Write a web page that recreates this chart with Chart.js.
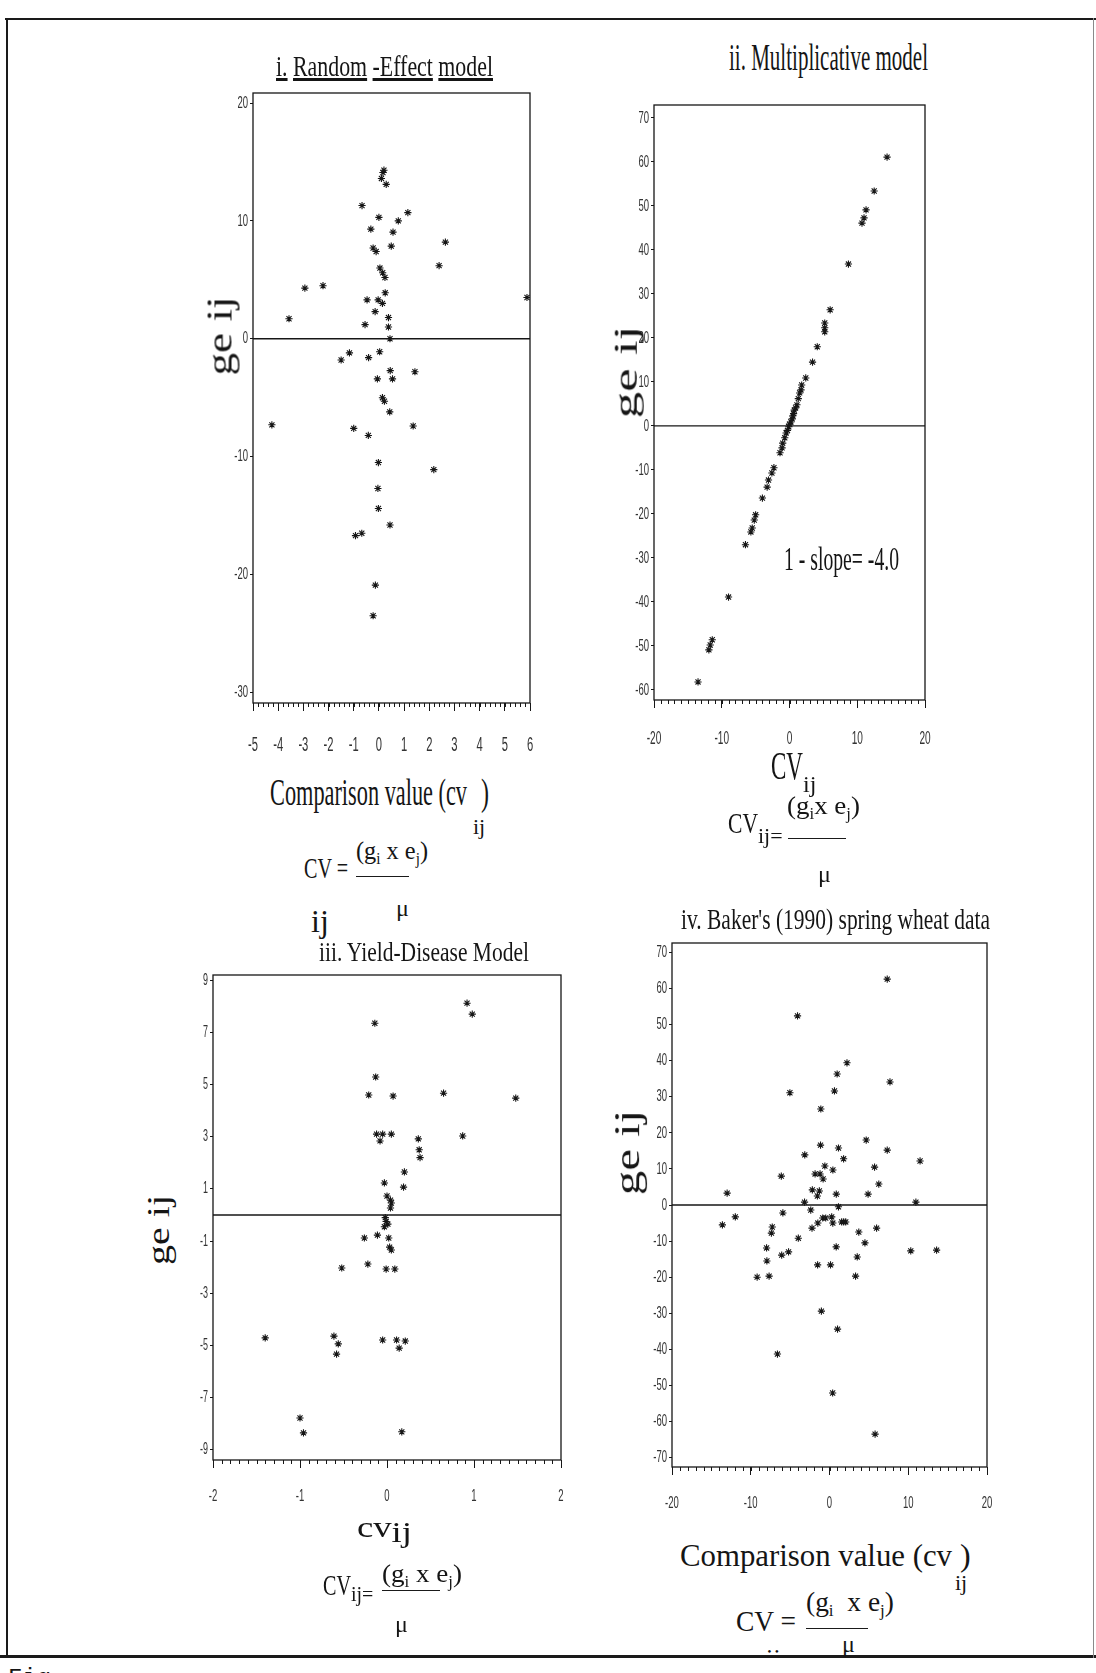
<!DOCTYPE html>
<html>
<head>
<meta charset="utf-8">
<title>ge(ij) against comparison value</title>
<script src="https://cdn.jsdelivr.net/npm/chart.js@4.4.1/dist/chart.umd.min.js"></script>
<style>
  html, body { margin: 0; padding: 0; background: #fff; }
  #page { position: relative; width: 1096px; height: 1673px; overflow: hidden; background: #fff; }
  canvas { position: absolute; }
  .lbl { position: absolute; line-height: 1; white-space: nowrap; transform-origin: 0 0;
         font-family: 'Liberation Serif', 'DejaVu Serif', serif; color: #151515; }
  .lbl sub { font-size: 0.62em; vertical-align: -0.3em; }
  .rule { position: absolute; background: #1a1a1a; }
</style>
</head>
<body>
<div id="page">
  <canvas id="chartRandom" width="325" height="682" style="left:217px; top:81px"></canvas>
  <canvas id="chartMult" width="319" height="667" style="left:618px; top:93px"></canvas>
  <canvas id="chartYield" width="396" height="557" style="left:177px; top:963px"></canvas>
  <canvas id="chartBaker" width="363" height="596" style="left:636px; top:931px"></canvas>
</div>
<script>
// i. Random-Effect model
const cvRandom = [0.16, 0.1, 0.2, 0.29, -0.67, 0.0, 1.15, 0.77, -0.32, 0.56, 2.64, 0.49, -0.23, -0.11, 2.39, 0.04, 0.15, 0.24, -2.94, -2.22, 0.25, -0.47, -0.03, 0.14, 5.88, -0.15, -3.57, 0.38, 0.38, -0.55, 0.44, -1.5, -1.17, -0.41, 0.03, 0.45, 0.54, -0.06, 1.43, 0.14, 0.22, 0.43, -4.25, -1.0, -0.42, 1.36, -0.02, 2.18, -0.04, -0.02, 0.44, -0.93, -0.68, -0.14, -0.23];
const geRandom = [14.1, 13.6, 14.3, 13.1, 11.3, 10.3, 10.7, 10.0, 9.3, 9.05, 8.2, 7.86, 7.7, 7.4, 6.2, 6.0, 5.6, 5.2, 4.3, 4.5, 3.9, 3.3, 3.3, 3.0, 3.5, 2.3, 1.7, 1.8, 1.0, 1.2, 0.0, -1.8, -1.2, -1.6, -1.1, -2.7, -3.4, -3.4, -2.8, -5.0, -5.3, -6.2, -7.3, -7.6, -8.2, -7.4, -10.5, -11.1, -12.7, -14.4, -15.8, -16.7, -16.5, -20.9, -23.5];
const xTicksRandom = [-5, -4, -3, -2, -1, 0, 1, 2, 3, 4, 5, 6];
const yTicksRandom = [-30, -20, -10, 0, 10, 20];

// ii. Multiplicative model
const cvMult = [14.4, 12.5, 11.3, 11.0, 10.7, 8.7, 6.0, 5.2, 5.2, 5.2, 4.1, 3.4, 2.4, 1.8, 1.7, 1.5, 1.3, 1.1, 0.9, 0.7, 0.6, 0.5, 0.4, 0.2, 0.0, -0.1, -0.3, -0.5, -0.7, -1.0, -1.1, -1.4, -2.3, -2.6, -3.1, -3.3, -4.0, -5.0, -5.2, -5.5, -5.7, -6.5, -9.0, -11.4, -11.7, -11.9, -13.5];
const geMult = [61.1, 53.4, 49.1, 47.3, 46.1, 36.8, 26.4, 23.4, 22.3, 21.4, 18.0, 14.5, 10.9, 9.3, 8.2, 7.5, 6.2, 4.8, 4.1, 3.6, 2.8, 2.3, 1.6, 0.9, 0.4, -0.2, -1.0, -1.6, -2.7, -3.9, -5.0, -6.1, -9.5, -10.7, -12.3, -13.9, -16.4, -20.2, -21.4, -23.2, -24.1, -27.0, -38.9, -48.6, -49.8, -50.9, -58.2];
const xTicksMult = [-20, -10, 0, 10, 20];
const yTicksMult = [-60, -50, -40, -30, -20, -10, 0, 10, 20, 30, 40, 50, 60, 70];

// iii. Yield-Disease model
const cvYield = [0.92, 0.98, -0.14, -0.13, -0.21, 0.07, 0.65, 1.48, -0.12, -0.05, -0.08, 0.05, 0.87, 0.36, 0.37, 0.38, 0.2, 0.19, -0.03, 0.0, 0.04, 0.05, 0.04, -0.02, -0.01, 0.01, -0.03, -0.26, -0.11, 0.02, 0.03, 0.05, -0.22, -0.52, -0.01, 0.09, -1.4, -0.61, -0.56, -0.58, -0.05, 0.11, 0.21, 0.14, -1.0, -0.96, 0.17];
const geYield = [8.12, 7.7, 7.35, 5.29, 4.6, 4.56, 4.67, 4.48, 3.1, 3.1, 2.84, 3.1, 3.03, 2.92, 2.5, 2.2, 1.65, 1.07, 1.23, 0.73, 0.57, 0.46, 0.27, -0.1, -0.25, -0.35, -0.45, -0.88, -0.77, -0.88, -1.23, -1.34, -1.88, -2.03, -2.07, -2.07, -4.71, -4.64, -4.94, -5.33, -4.79, -4.79, -4.83, -5.1, -7.78, -8.35, -8.31];
const xTicksYield = [-2, -1, 0, 1, 2];
const yTicksYield = [-9, -7, -5, -3, -1, 1, 3, 5, 7, 9];

// iv. Baker's (1990) spring wheat data
const cvBaker = [7.33, -4.06, 2.22, 0.97, 7.68, -5.03, 0.63, -1.1, 4.66, -1.14, 1.14, 7.33, -3.14, 1.79, 11.5, 5.72, -0.59, -6.12, -1.83, -1.2, -0.81, 0.43, 6.26, -2.18, -1.29, -1.54, 0.86, 4.9, -13.0, -3.17, 10.97, 1.14, -2.38, -13.6, -11.96, -5.92, -7.27, -7.38, -7.99, -7.95, -7.67, -9.19, -6.61, -6.07, -5.2, -3.96, -2.22, -1.48, -0.86, -0.48, 0.28, 0.42, 1.55, 1.8, 2.06, -1.51, 0.13, 0.85, 3.72, 5.98, 4.5, 3.52, 3.31, -1.03, 1.02, 0.4, 5.79, 10.32, 13.6];
const geBaker = [62.6, 52.4, 39.4, 36.3, 34.1, 31.1, 31.6, 26.6, 18.0, 16.6, 15.8, 15.2, 13.9, 12.8, 12.2, 10.5, 10.8, 8.0, 8.6, 8.6, 7.2, 9.7, 5.8, 4.2, 3.9, 2.5, 3.0, 3.0, 3.3, 0.8, 0.8, -0.5, -1.4, -5.5, -3.3, -2.2, -6.1, -7.8, -11.9, -15.5, -19.7, -20.0, -41.3, -13.9, -13.0, -9.2, -6.4, -5.0, -3.6, -3.6, -3.3, -5.0, -4.7, -4.7, -4.7, -16.6, -16.6, -11.6, -7.5, -6.4, -10.5, -14.4, -19.7, -29.4, -34.4, -52.1, -63.5, -12.7, -12.5];
const xTicksBaker = [-20, -10, 0, 10, 20];
const yTicksBaker = [-70, -60, -50, -40, -30, -20, -10, 0, 10, 20, 30, 40, 50, 60, 70];

const ink = "#161616";

// box round the plot, the ge = 0 line, minor ticks and the narrow tick numbers
const paperFrame = {
    id: "paperFrame",
    beforeDatasetsDraw(chart, args, opts) {
        const { ctx, chartArea: a, scales: { x, y } } = chart;
        ctx.save();
        ctx.strokeStyle = ink;
        ctx.lineWidth = 1.3;
        ctx.strokeRect(a.left, a.top, a.right - a.left, a.bottom - a.top);
        const y0 = y.getPixelForValue(0);
        ctx.beginPath();
        ctx.moveTo(a.left, y0);
        ctx.lineTo(a.right, y0);
        ctx.stroke();
        ctx.lineWidth = 1;
        ctx.beginPath();
        const n = Math.round((x.max - x.min) / opts.minor);
        for (let i = 0; i <= n; i++) {
            const px = Math.round(x.getPixelForValue(x.min + i * opts.minor)) + 0.5;
            ctx.moveTo(px, a.bottom);
            ctx.lineTo(px, a.bottom + 4);
        }
        ctx.stroke();
        ctx.restore();
    },
    afterDraw(chart, args, opts) {
        const { ctx, chartArea: a, scales: { x, y } } = chart;
        ctx.save();
        ctx.fillStyle = "#333";
        ctx.textBaseline = "middle";
        ctx.font = `${opts.xFont}px 'Liberation Sans', sans-serif`;
        ctx.textAlign = "center";
        x.ticks.forEach((t) => {
            ctx.save();
            ctx.translate(x.getPixelForValue(t.value), a.bottom + opts.xGap);
            ctx.scale(0.56, 1);
            ctx.fillText(String(t.value), 0, 0);
            ctx.restore();
        });
        ctx.font = `${opts.yFont}px 'Liberation Sans', sans-serif`;
        ctx.textAlign = "right";
        y.ticks.forEach((t) => {
            ctx.save();
            ctx.translate(a.left - 5, y.getPixelForValue(t.value));
            ctx.scale(0.56, 1);
            ctx.fillText(String(t.value), 0, 0);
            ctx.restore();
        });
        ctx.restore();
    }
};

const makePanel = (id, xs, ys, ax) => {
    const canvas = document.getElementById(id);
    return new Chart(canvas, {
        type: "scatter",
        data: {
            datasets: [{
                data: xs.map((v, i) => ({ x: v, y: ys[i] })),
                pointStyle: "star",
                pointRadius: 3.6,
                pointBorderWidth: 1.1,
                pointBorderColor: ink,
                pointBackgroundColor: ink
            }]
        },
        options: {
            responsive: false,
            animation: false,
            devicePixelRatio: 1,
            layout: { padding: { top: 12, right: 12, left: 0, bottom: 0 } },
            plugins: {
                legend: { display: false },
                tooltip: { enabled: false },
                paperFrame: { minor: ax.minor, xGap: ax.xGap, xFont: ax.xFont, yFont: ax.yFont }
            },
            scales: {
                x: {
                    type: "linear",
                    min: ax.xMin,
                    max: ax.xMax,
                    afterBuildTicks: (s) => { s.ticks = ax.xTicks.map((v) => ({ value: v })); },
                    afterFit: (s) => { s.height = 60; },
                    border: { display: false },
                    grid: { drawOnChartArea: false, tickLength: 8, tickColor: ink, tickWidth: 1 },
                    ticks: { display: false }
                },
                y: {
                    type: "linear",
                    min: ax.yMin,
                    max: ax.yMax,
                    afterBuildTicks: (s) => { s.ticks = ax.yTicks.map((v) => ({ value: v })); },
                    afterFit: (s) => { s.width = 36; },
                    border: { display: false },
                    grid: { drawOnChartArea: false, tickLength: 3, tickColor: ink, tickWidth: 1 },
                    ticks: { display: false }
                }
            }
        },
        plugins: [paperFrame]
    });
};

makePanel("chartRandom", cvRandom, geRandom, {
    xMin: -5, xMax: 6, xTicks: xTicksRandom, minor: 0.2, xGap: 42, xFont: 20, yFont: 17,
    yMin: -30.9, yMax: 20.85, yTicks: yTicksRandom
});
makePanel("chartMult", cvMult, geMult, {
    xMin: -20, xMax: 20, xTicks: xTicksMult, minor: 1, xGap: 39, xFont: 18, yFont: 17,
    yMin: -62.3, yMax: 72.95, yTicks: yTicksMult
});
makePanel("chartYield", cvYield, geYield, {
    xMin: -2, xMax: 2, xTicks: xTicksYield, minor: 0.1, xGap: 36, xFont: 17, yFont: 16,
    yMin: -9.39, yMax: 9.2, yTicks: yTicksYield
});
makePanel("chartBaker", cvBaker, geBaker, {
    xMin: -20, xMax: 20, xTicks: xTicksBaker, minor: 1, xGap: 36, xFont: 17, yFont: 17,
    yMin: -72.6, yMax: 72.6, yTicks: yTicksBaker
});

// ---- the typed text of the figure ----
const page = document.getElementById("page");

const label = (html, size, family) => {
    const d = document.createElement("div");
    d.className = "lbl";
    d.innerHTML = html;
    d.style.fontSize = size + "px";
    if (family) d.style.fontFamily = family;
    page.appendChild(d);
    return d;
};

// left edge, baseline, font size, optional width to squeeze the text into
const put = (html, left, baseline, size, width, family) => {
    const d = label(html, size, family);
    d.style.left = left + "px";
    d.style.top = (baseline - 0.84 * size) + "px";
    if (width) {
        d.style.transform = `scaleX(${width / d.getBoundingClientRect().width})`;
    }
    return d;
};

// vertical axis title, read from bottom to top
const putRot = (html, cx, cy, size, len) => {
    const d = label(html, size);
    const w = d.offsetWidth, h = d.offsetHeight;
    d.style.left = (cx - w / 2) + "px";
    d.style.top = (cy - h / 2) + "px";
    d.style.transformOrigin = "50% 50%";
    d.style.transform = `rotate(-90deg) scaleX(${len / w})`;
};

const rule = (left, top, width, height = 1.4) => {
    const d = document.createElement("div");
    d.className = "rule";
    d.style.left = left + "px";
    d.style.top = top + "px";
    d.style.width = width + "px";
    d.style.height = height + "px";
    page.appendChild(d);
};

// page frame
rule(5, 18, 1091, 2);
rule(6, 18, 2, 1640);
rule(0, 1655, 1096, 3);
const rightEdge = document.createElement("div");
rightEdge.style.cssText = "position:absolute; left:1093px; top:18px; width:1px; height:1640px; background:#8a8a8a";
page.appendChild(rightEdge);

// panel i
put("<u>i.</u> <u>Random</u> <u>-Effect</u> <u>model</u>", 276, 76, 30, 217);
putRot("ge&nbsp;ij", 219, 336, 36, 79);
put("Comparison value (cv", 270, 805, 38, 197);
put(")", 481, 805, 38, 8);
put("ij", 473, 834, 22);
put("CV =", 304, 878, 30, 44);
put("(g<sub>i</sub> x e<sub>j</sub>)", 356, 860, 26, 72);
rule(356, 876, 53);
put("μ", 396, 916, 24);
put("ij", 311, 932, 32);

// panel ii
put("ii. Multiplicative model", 729, 70, 38, 199);
putRot("ge&nbsp;ij", 625, 372, 34, 92);
put("1 - slope= -4.0", 784, 571, 34, 115);
put("CV", 771, 780, 40, 32);
put("ij", 803, 792, 24);
put("CV", 728, 833, 30, 30);
put("ij=", 758, 843, 22);
put("(g<sub>i</sub>x e<sub>j</sub>)", 787, 815, 26, 73);
rule(788, 838, 58);
put("μ", 818, 882, 24);

// panel iii
put("iii. Yield-Disease Model", 319, 962, 28, 210);
putRot("ge&nbsp;ij", 158, 1230, 32, 70);
put("cv<span style=\"position:relative; top:5px\">ij</span>", 357, 1537, 30, 55);
put("CV", 323, 1595, 30, 28);
put("ij=", 351, 1601, 20);
put("(g<sub>i</sub> x e<sub>j</sub>)", 382, 1583, 26, 80);
rule(382, 1590, 58);
put("μ", 395, 1632, 24);

// panel iv
put("iv. Baker's (1990) spring wheat data", 681, 929, 30, 309);
putRot("ge&nbsp;ij", 627, 1152, 35, 85);
put("Comparison value (cv", 680, 1566, 32, 272);
put(")", 960, 1566, 32);
put("ij", 955, 1590, 22);
put("CV =", 736, 1631, 30, 60);
put("(g<sub>i</sub>&nbsp; x e<sub>j</sub>)", 806, 1612, 28, 88);
rule(806, 1628, 62);
put("μ", 842, 1652, 24);

// subscript under the last CV, cut by the bottom rule
const clip = document.createElement("div");
clip.style.cssText = "position:absolute; left:760px; top:1640px; width:30px; height:15px; overflow:hidden";
page.appendChild(clip);
const ijCut = document.createElement("div");
ijCut.className = "lbl";
ijCut.style.cssText = "left:6px; top:6px; font-size:26px";
ijCut.textContent = "ij";
clip.appendChild(ijCut);

// caption, mostly off the bottom of the scan
put("Fig.", 8, 1687, 24, null, "'Liberation Mono', monospace");
</script>
</body>
</html>
